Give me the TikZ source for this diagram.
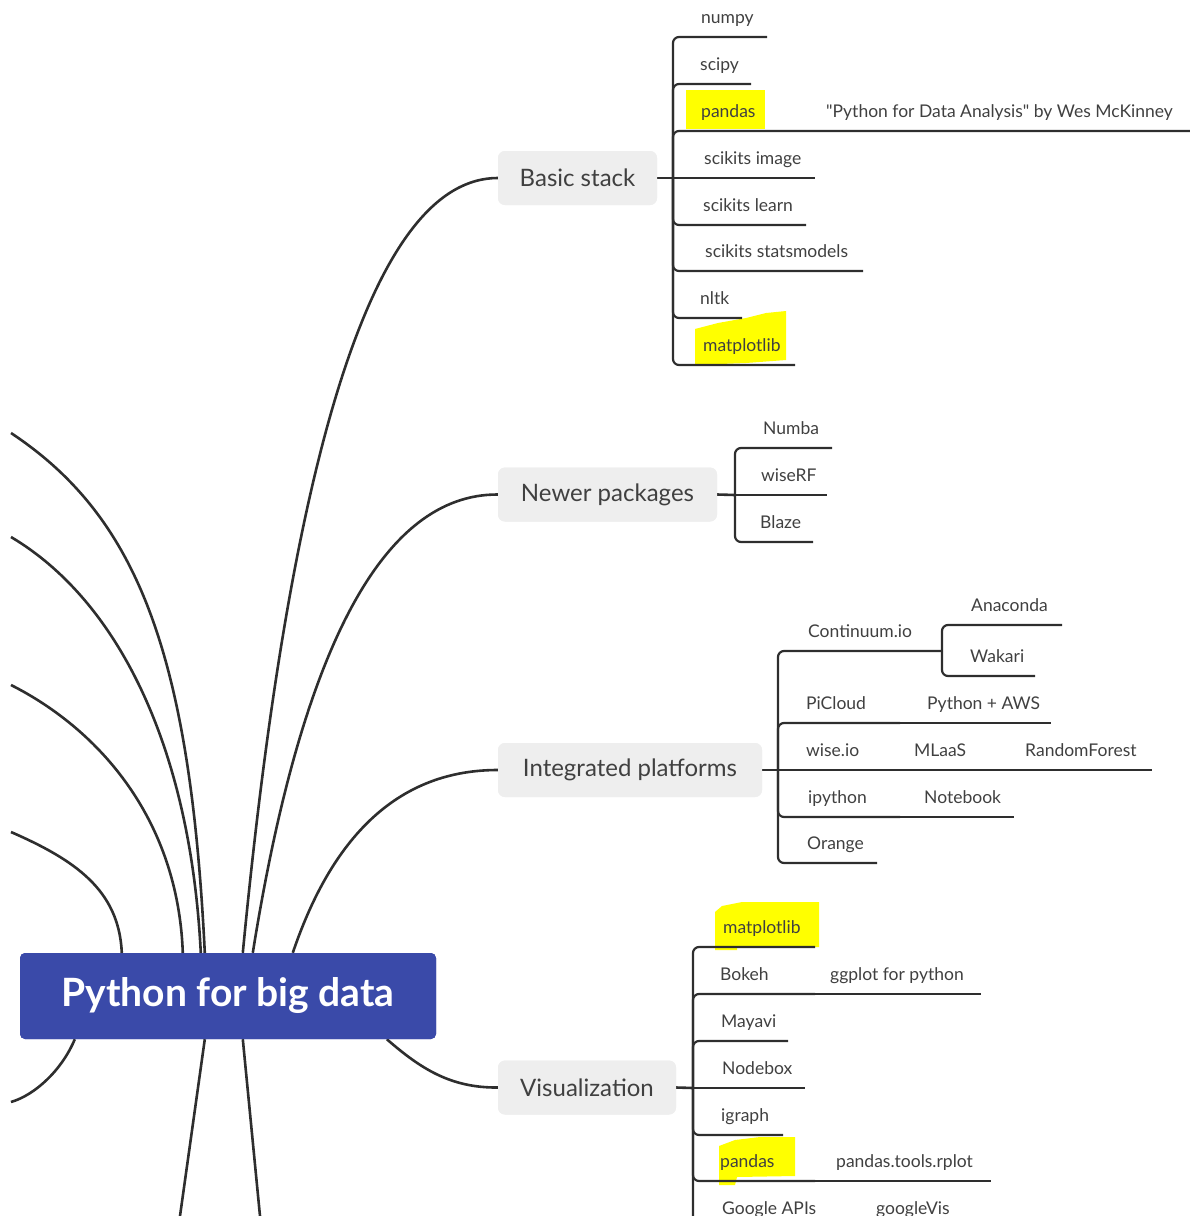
\documentclass[tikz,border=0pt]{standalone}
\usepackage{fontspec}
\setmainfont{Lato}[Ligatures=TeXOff]
\usetikzlibrary{calc}
\definecolor{linec}{HTML}{2E2E2E}
\definecolor{txtc}{HTML}{404040}
\definecolor{rootblue}{HTML}{3A4AA9}
\definecolor{topicbg}{HTML}{EEEEEE}
\definecolor{hl}{HTML}{FFFF00}
\begin{document}
\begin{tikzpicture}[x=1pt,y=-1pt,
  conn/.style={draw=linec, line width=2.6pt},
  sub/.style={draw=linec, line width=2.2pt, rounded corners=6pt},
  item/.style={anchor=base west, inner sep=0pt, text=txtc, font=\fontsize{17.5}{20}\selectfont},
  topic/.style={fill=topicbg, rounded corners=7pt, text=txtc, font=\fontsize{24}{28}\selectfont, inner sep=0pt, minimum height=54pt},
  rootnode/.style={fill=rootblue, rounded corners=5pt, text=white, font=\fontsize{39}{44}\selectfont\bfseries, inner sep=0pt, minimum width=416pt, minimum height=86pt},
  hlight/.style={fill=hl, draw=none}
]
\useasboundingbox (0,0) rectangle (1190,1216);
\clip (0,0) rectangle (1190,1216);

% ---------- highlights ----------
\fill[hlight] (686,90) rectangle (765,129);
\fill[hlight] (695,329) -- (718,323) -- (746,318) -- (766,313) -- (786,311) -- (786,360) -- (746,363) -- (695,365) -- cycle;
\fill[hlight] (715,912) -- (722,906) -- (742,902) -- (819,902) -- (819,947) -- (737,947) -- (737,950) -- (715,950) -- cycle;
\fill[hlight] (719,1146) -- (735,1140) -- (760,1137) -- (795,1137) -- (795,1176) -- (737,1177) -- (735,1185) -- (719,1185) -- cycle;

% ---------- nodes ----------
\node[rootnode] (root) at (228,996) {Python for big data};
\node[topic, minimum width=159pt] (bs) at (577.5,178) {Basic stack};
\node[topic, minimum width=219pt] (np) at (607.5,494.5) {Newer packages};
\node[topic, minimum width=264pt] (ip) at (630,770) {Integrated platforms};
\node[topic, minimum width=178pt] (vz) at (587,1087.5) {Visualization};

% ---------- main curves ----------
\coordinate (rBS) at ($(root.north west)+(223,0)$);
\coordinate (rNP) at ($(root.north west)+(233,0)$);
\coordinate (rIP) at ($(root.north west)+(273,0)$);
\coordinate (rVZ) at ($(root.south west)+(367,0)$);
\coordinate (rA) at ($(root.north west)+(185,0)$);
\coordinate (rB) at ($(root.north west)+(181,0)$);
\coordinate (rC) at ($(root.north west)+(163,0)$);
\coordinate (rD) at ($(root.north west)+(102,0)$);
\coordinate (rE) at ($(root.south west)+(55,0)$);
\coordinate (rF) at ($(root.south west)+(185,0)$);
\coordinate (rG) at ($(root.south west)+(223,0)$);
\coordinate (eA) at (11,433);
\coordinate (eB) at (11,537);
\coordinate (eC) at (11,685);
\coordinate (eD) at (11,832);
\coordinate (eE) at (11,1102);
\coordinate (eF) at (180,1216);
\coordinate (eG) at (260,1216);

\draw[conn] (rBS) .. controls (292.3,436.3) and (377.3,178) .. (bs.west);
\draw[conn] (rNP) .. controls (301.7,647) and (383.3,494) .. (np.west);
\draw[conn] (rIP) .. controls (334,831) and (402.3,770) .. (ip.west);
\draw[conn] (rVZ) .. controls (420,1068) and (450,1088) .. (vz.west);
\draw[conn] (rA) .. controls (190,650) and (136,516) .. (eA);
\draw[conn] (rB) .. controls (190,740) and (114,598) .. (eB);
\draw[conn] (rC) .. controls (178,820) and (100,730) .. (eC);
\draw[conn] (rD) .. controls (119,890) and (75,860) .. (eD);
\draw[conn] (rE) .. controls (62,1070) and (35,1095) .. (eE);
\draw[conn] (rF) -- (eF);
\draw[conn] (rG) -- (eG);

% ---------- Basic stack ----------
\coordinate (bsJ) at (673,178);
\draw[conn] (bs.east) -- (bsJ);
\node[item] (numpy) at (701,23) {numpy};
\node[item] (scipy) at (700,70) {scipy};
\node[item] (pandasA) at (701,117) {pandas};
\node[item] (pfda) at (826,117) {"Python for Data Analysis" by Wes McKinney};
\node[item] (skimage) at (704,164) {scikits image};
\node[item] (sklearn) at (703,211) {scikits learn};
\node[item] (skstats) at (705,257) {scikits statsmodels};
\node[item] (nltk) at (700,304) {nltk};
\node[item] (mplA) at (703,351) {matplotlib};
\coordinate (numpyE) at (767,37);
\coordinate (scipyE) at (751,84);
\coordinate (pandasAE) at (1190,131);
\coordinate (skimageE) at (815,178);
\coordinate (sklearnE) at (806,225);
\coordinate (skstatsE) at (863,271);
\coordinate (nltkE) at (742,318);
\coordinate (mplAE) at (795,365);
\draw[sub] (bsJ) |- (numpyE);
\draw[sub] (bsJ) |- (scipyE);
\draw[sub] (bsJ) |- (pandasAE);
\draw[sub] (bsJ) -- (skimageE);
\draw[sub] (bsJ) |- (sklearnE);
\draw[sub] (bsJ) |- (skstatsE);
\draw[sub] (bsJ) |- (nltkE);
\draw[sub] (bsJ) |- (mplAE);

% ---------- Newer packages ----------
\coordinate (npJ) at (735,495);
\draw[conn] (np.east) -- (npJ);
\node[item] (numba) at (763,434) {Numba};
\node[item] (wiserf) at (761,481) {wiseRF};
\node[item] (blaze) at (760,528) {Blaze};
\coordinate (numbaE) at (832,448);
\coordinate (wiserfE) at (827,495);
\coordinate (blazeE) at (813,542);
\draw[sub] (npJ) |- (numbaE);
\draw[sub] (npJ) -- (wiserfE);
\draw[sub] (npJ) |- (blazeE);

% ---------- Integrated platforms ----------
\coordinate (ipJ) at (778,770);
\draw[conn] (ip.east) -- (ipJ);
\node[item] (cont) at (808,637) {Continuum.io};
\node[item] (anac) at (971,611) {Anaconda};
\node[item] (wakari) at (970,662) {Wakari};
\node[item] (picloud) at (806,709) {PiCloud};
\node[item] (paws) at (927,709) {Python + AWS};
\node[item] (wiseio) at (806,756) {wise.io};
\node[item] (mlaas) at (914,756) {MLaaS};
\node[item] (rf) at (1025,756) {RandomForest};
\node[item] (ipy) at (808,803) {ipython};
\node[item] (nb) at (924,803) {Notebook};
\node[item] (orange) at (807,849) {Orange};
\coordinate (contJ) at (942,651);
\coordinate (anacE) at (1062,625);
\coordinate (wakariE) at (1035,676);
\coordinate (picloudE) at (900,723);
\coordinate (pawsE) at (1051,723);
\coordinate (wiseioE) at (885,770);
\coordinate (mlaasE) at (990,770);
\coordinate (rfE) at (1152,770);
\coordinate (ipyE) at (900,817);
\coordinate (nbE) at (1014,817);
\coordinate (orangeE) at (877,863);
\draw[sub] (ipJ) |- (contJ);
\draw[sub] (contJ) |- (anacE);
\draw[sub] (contJ) |- (wakariE);
\draw[sub] (ipJ) |- (picloudE);
\draw[sub] (picloudE) -- (pawsE);
\draw[sub] (ipJ) -- (wiseioE);
\draw[sub] (wiseioE) -- (mlaasE);
\draw[sub] (mlaasE) -- (rfE);
\draw[sub] (ipJ) |- (ipyE);
\draw[sub] (ipyE) -- (nbE);
\draw[sub] (ipJ) |- (orangeE);

% ---------- Visualization ----------
\coordinate (vzJ) at (693,1088);
\draw[conn] (vz.east) -- (vzJ);
\node[item] (mplB) at (723,933) {matplotlib};
\node[item] (bokeh) at (720,980) {Bokeh};
\node[item] (ggplot) at (830,980) {ggplot for python};
\node[item] (mayavi) at (721,1027) {Mayavi};
\node[item] (nodebox) at (722,1074) {Nodebox};
\node[item] (igraph) at (721,1121) {igraph};
\node[item] (pandasB) at (720,1167) {pandas};
\node[item] (rplot) at (836,1167) {pandas.tools.rplot};
\node[item] (gapis) at (722,1214) {Google APIs};
\node[item] (gvis) at (876,1214) {googleVis};
\coordinate (mplBE) at (815,947);
\coordinate (bokehE) at (815,994);
\coordinate (ggplotE) at (981,994);
\coordinate (mayaviE) at (788,1041);
\coordinate (nodeboxE) at (805,1088);
\coordinate (igraphE) at (783,1135);
\coordinate (pandasBE) at (815,1181);
\coordinate (rplotE) at (991,1181);
\coordinate (gapisE) at (860,1228);
\coordinate (gvisE) at (975,1228);
\draw[sub] (vzJ) |- (mplBE);
\draw[sub] (vzJ) |- (bokehE);
\draw[sub] (bokehE) -- (ggplotE);
\draw[sub] (vzJ) |- (mayaviE);
\draw[sub] (vzJ) -- (nodeboxE);
\draw[sub] (vzJ) |- (igraphE);
\draw[sub] (vzJ) |- (pandasBE);
\draw[sub] (pandasBE) -- (rplotE);
\draw[sub] (vzJ) |- (gapisE);
\draw[sub] (gapisE) -- (gvisE);

% nodes again, on top of the curves
\node[rootnode] at (root.center) {Python for big data};
\node[topic, minimum width=159pt] at (bs.center) {Basic stack};
\node[topic, minimum width=219pt] at (np.center) {Newer packages};
\node[topic, minimum width=264pt] at (ip.center) {Integrated platforms};
\node[topic, minimum width=178pt] at (vz.center) {Visualization};
\end{tikzpicture}
\end{document}
